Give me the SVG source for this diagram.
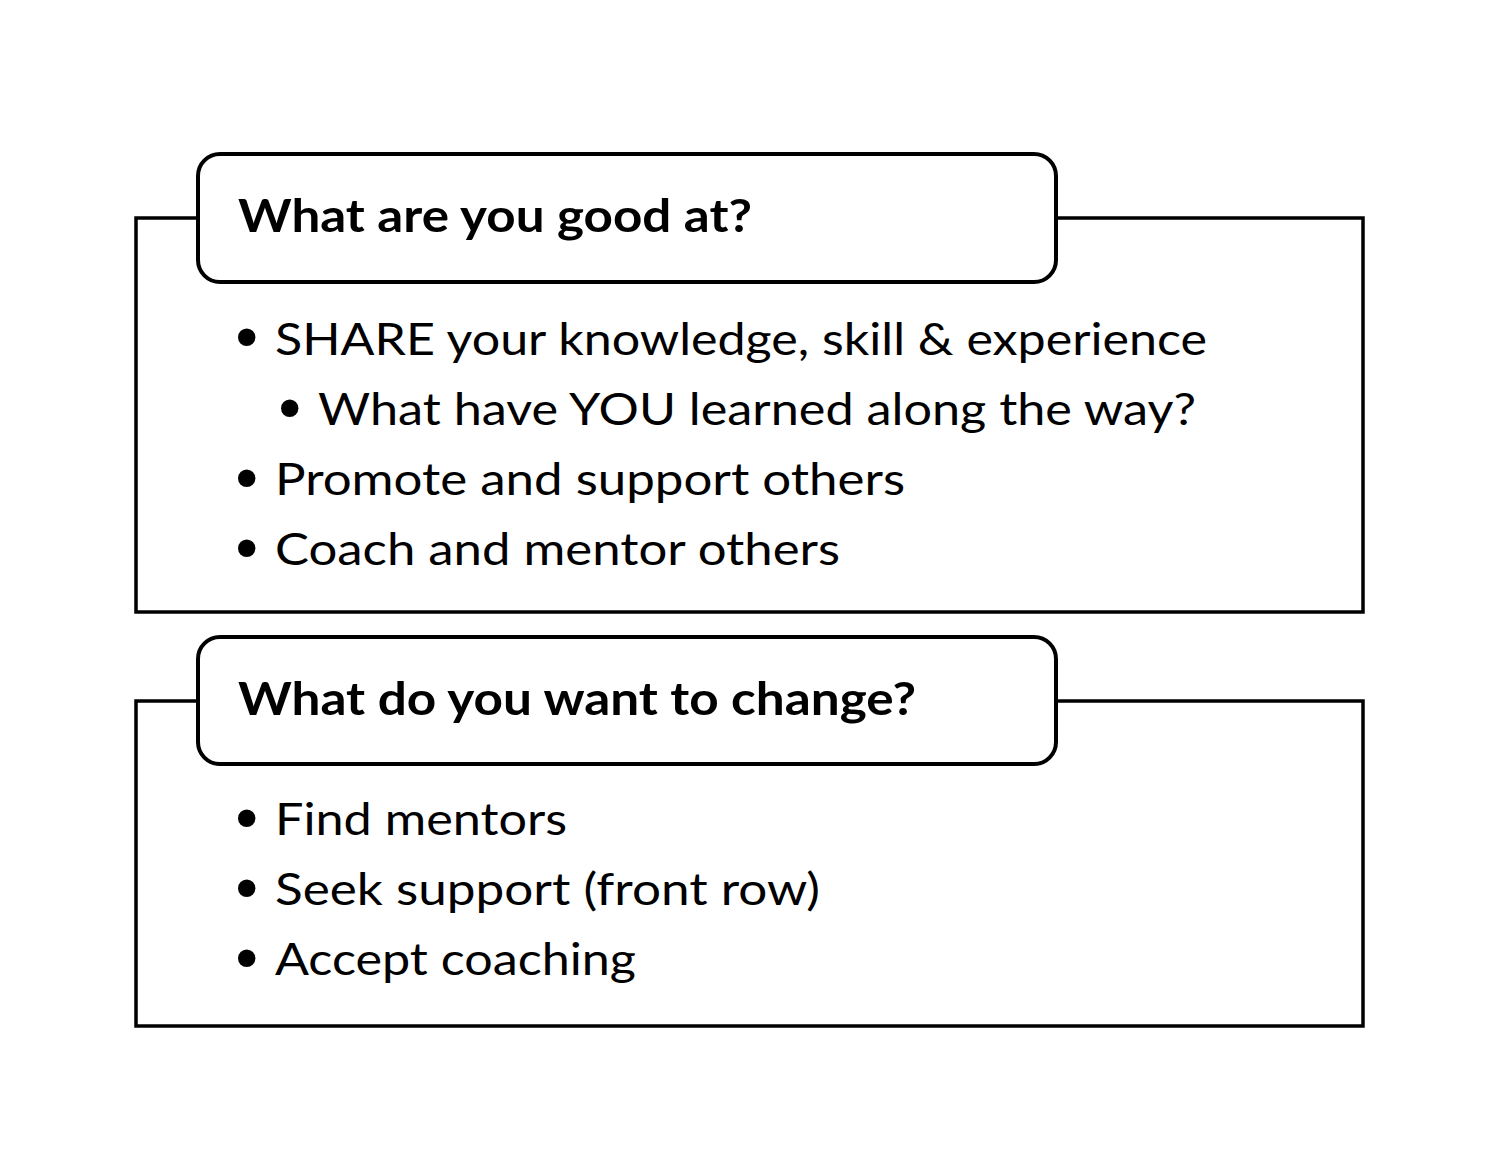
<svg xmlns="http://www.w3.org/2000/svg" width="1500" height="1159" viewBox="0 0 1500 1159">
<style>
.outer{fill:none;stroke:#000;stroke-width:3.5}
.head{fill:#fff;stroke:#000;stroke-width:4}
.h{font-family:Lato,"Open Sans","Liberation Sans",sans-serif;font-weight:bold;font-size:46px;fill:#000}
.t{font-family:Lato,"Open Sans","Liberation Sans",sans-serif;font-size:44px;fill:#000}
.b{font-family:"DejaVu Sans","Liberation Sans",sans-serif;font-size:60px;fill:#000}
</style>
<rect width="1500" height="1159" fill="#fff"/>
<g id="panel1">
<rect class="outer" x="136" y="218" width="1227" height="394"/>
<rect class="head" x="198" y="154" width="858" height="128" rx="22"/>
<text class="h" x="238" y="232" textLength="514" lengthAdjust="spacingAndGlyphs">What are you good at?</text>
<text class="b" x="229" y="360">•</text>
<text class="t" x="275" y="355" textLength="932" lengthAdjust="spacingAndGlyphs">SHARE your knowledge, skill &amp; experience</text>
<text class="b" x="272" y="431">•</text>
<text class="t" x="318" y="425" textLength="878" lengthAdjust="spacingAndGlyphs">What have YOU learned along the way?</text>
<text class="b" x="229" y="501">•</text>
<text class="t" x="275" y="495" textLength="630" lengthAdjust="spacingAndGlyphs">Promote and support others</text>
<text class="b" x="229" y="571">•</text>
<text class="t" x="275" y="565" textLength="565" lengthAdjust="spacingAndGlyphs">Coach and mentor others</text>
</g>
<g id="panel2">
<rect class="outer" x="136" y="701" width="1227" height="325"/>
<rect class="head" x="198" y="637" width="858" height="127" rx="22"/>
<text class="h" x="238" y="715" textLength="678" lengthAdjust="spacingAndGlyphs">What do you want to change?</text>
<text class="b" x="229" y="841">•</text>
<text class="t" x="275" y="835" textLength="292" lengthAdjust="spacingAndGlyphs">Find mentors</text>
<text class="b" x="229" y="911">•</text>
<text class="t" x="275" y="905" textLength="545" lengthAdjust="spacingAndGlyphs">Seek support (front row)</text>
<text class="b" x="229" y="981">•</text>
<text class="t" x="275" y="975" textLength="361" lengthAdjust="spacingAndGlyphs">Accept coaching</text>
</g>
<g id="connectors"></g>
</svg>
